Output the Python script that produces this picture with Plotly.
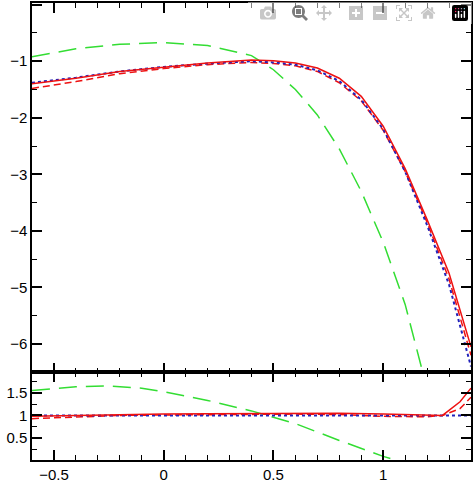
import plotly.graph_objects as go
from plotly.subplots import make_subplots

x = [-0.6, -0.4, -0.2, 0.0, 0.2, 0.4, 0.5, 0.6, 0.7, 0.8, 0.9, 1.0, 1.1, 1.2, 1.3, 1.4]
red_solid = [-1.4, -1.3, -1.18, -1.1, -1.03, -0.98, -0.99, -1.03, -1.12, -1.3, -1.62, -2.15, -2.9, -3.8, -4.75, -6.05]
red_dash = [-1.48, -1.36, -1.22, -1.13, -1.06, -1.02, -1.04, -1.08, -1.18, -1.38, -1.7, -2.22, -2.95, -3.85, -4.85, -6.2]
blue_dot = [-1.38, -1.29, -1.18, -1.1, -1.04, -1.0, -1.02, -1.06, -1.16, -1.35, -1.68, -2.2, -2.95, -3.9, -4.95, -6.4]
green_x = [-0.6, -0.4, -0.2, 0.0, 0.2, 0.4, 0.5, 0.6, 0.7, 0.8, 0.9, 1.0, 1.1, 1.18]
green = [-0.92, -0.78, -0.7, -0.67, -0.72, -0.9, -1.15, -1.5, -1.95, -2.55, -3.3, -4.2, -5.3, -6.5]

rx = [-0.6, -0.4, -0.2, 0.0, 0.2, 0.4, 0.6, 0.8, 1.0, 1.2, 1.27, 1.35, 1.4]
r_solid = [0.98, 1.0, 1.02, 1.03, 1.04, 1.04, 1.05, 1.05, 1.03, 1.01, 1.0, 1.3, 1.6]
r_dash = [0.93, 0.96, 1.0, 1.01, 1.02, 1.03, 1.03, 1.02, 0.98, 0.97, 1.0, 1.15, 1.4]
r_blue = [1.0] * 13
rg_x = [-0.6, -0.4, -0.25, -0.1, 0.0, 0.2, 0.4, 0.6, 0.8, 1.0, 1.07]
r_green = [1.55, 1.63, 1.65, 1.6, 1.52, 1.33, 1.1, 0.82, 0.45, 0.1, 0.0]

fig = make_subplots(rows=2, cols=1, shared_xaxes=True, vertical_spacing=0,
                    row_heights=[0.808, 0.192])

def add(xs, ys, color, dash, width, row):
    fig.add_trace(go.Scatter(x=xs, y=ys, mode='lines',
                             line=dict(color=color, dash=dash, width=width),
                             showlegend=False), row=row, col=1)

add(green_x, green, '#33dd33', '18px,9px', 1.5, 1)
add(x, red_dash, '#ee1111', '7px,4px', 1.5, 1)
add(x, blue_dot, '#2222bb', 'dot', 2, 1)
add(x, red_solid, '#ee1111', 'solid', 1.5, 1)

add(rg_x, r_green, '#33dd33', '18px,9px', 1.5, 2)
add(rx, r_dash, '#ee1111', '7px,4px', 1.5, 2)
add(rx, r_blue, '#2222bb', 'dot', 2, 2)
add(rx, r_solid, '#ee1111', 'solid', 1.5, 2)

ax = dict(showline=True, linecolor='black', linewidth=1.5, mirror='allticks',
          ticks='inside', ticklen=10, tickwidth=1.5, tickcolor='black', showgrid=False,
          zeroline=False, tickfont=dict(family='Liberation Sans', size=15, color='black'),
          minor=dict(ticks='inside', ticklen=5, tickwidth=1.2, tickcolor='black'))

fig.update_xaxes(**ax, range=[-0.6, 1.4], dtick=0.5)
fig.update_xaxes(minor_dtick=0.1)
fig.update_yaxes(**ax)
fig.update_yaxes(range=[-6.5, 0.03], dtick=1, minor_dtick=0.5, row=1, col=1)
fig.update_yaxes(range=[0.02, 1.95], tickvals=[0.5, 1, 1.5], ticktext=['0.5', '1', '1.5'],
                 minor=dict(dtick=0.25), row=2, col=1)

fig.update_layout(width=474, height=484, plot_bgcolor='white', paper_bgcolor='white',
                  margin=dict(l=32, r=1, t=3, b=19))
fig.write_html("out.html", post_script="document.body.style.margin='0';")
